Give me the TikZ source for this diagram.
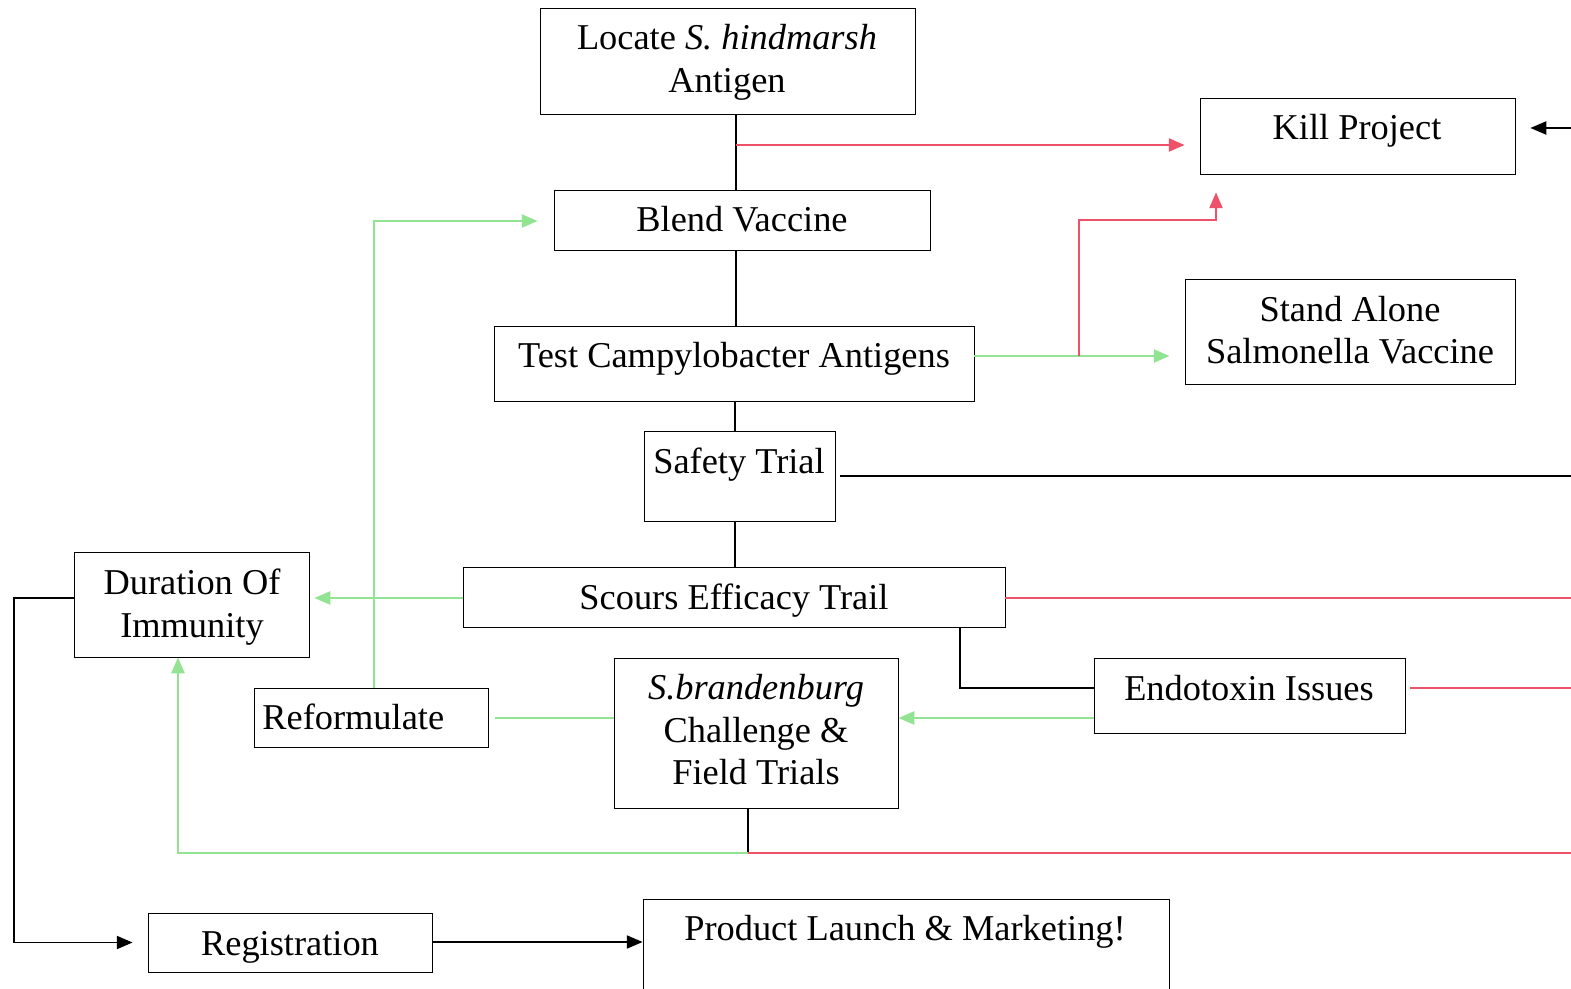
\documentclass[tikz,border=0pt]{standalone}
\usepackage{fontspec}
\setmainfont{Liberation Serif}
\usetikzlibrary{arrows.meta,fit}
\definecolor{kred}{RGB}{238,82,104}
\definecolor{kgreen}{RGB}{146,228,146}
\begin{document}
\begin{tikzpicture}[x=0.02cm,y=-0.02cm,
  box/.style={draw, line width=0.5pt, inner sep=0pt},
  txt/.style={inner sep=0pt, anchor=base, font=\fontsize{20.7}{24}\selectfont},
  blk/.style={draw=black, line width=0.9pt},
  rl/.style={draw=kred, line width=1.1pt},
  gl/.style={draw=kgreen, line width=1.1pt},
  tip/.style={-{Triangle[length=9pt,width=7.5pt]}}]
\useasboundingbox (0,0) rectangle (1571,989);
\clip (0,0) rectangle (1571,989);
% boxes
\node[box, fit={(540,8) (915,114)}] (loc) {};
\node[box, fit={(1200,98) (1515,174)}] (kill) {};
\node[box, fit={(554,190) (930,250)}] (blend) {};
\node[box, fit={(494,326) (974,401)}] (test) {};
\node[box, fit={(1185,279) (1515,384)}] (stand) {};
\node[box, fit={(644,431) (835,521)}] (safety) {};
\node[box, fit={(463,567) (1005,627)}] (scours) {};
\node[box, fit={(74,552) (309,657)}] (dur) {};
\node[box, fit={(254,688) (488,747)}] (ref) {};
\node[box, fit={(614,658) (898,808)}] (sb) {};
\node[box, fit={(1094,658) (1405,733)}] (endo) {};
\node[box, fit={(148,913) (432,972)}] (reg) {};
\node[box, fit={(643,899) (1169,1010)}] (prod) {};
% texts
\node[txt] (loc1) at (727,50) {Locate \textit{S. hindmarsh}};
\node[txt] (loc2) at (727,93) {Antigen};
\node[txt] (killt) at (1357,140) {Kill Project};
\node[txt] (blendt) at (742,232) {Blend Vaccine};
\node[txt] (testt) at (734,368) {Test Campylobacter Antigens};
\node[txt] (stand1) at (1350,322) {Stand Alone};
\node[txt] (stand2) at (1350,364) {Salmonella Vaccine};
\node[txt] (safetyt) at (739,473) {Safety Trial};
\node[txt] (scourst) at (734,609) {Scours Efficacy Trail};
\node[txt] (dur1) at (192,594) {Duration Of};
\node[txt] (dur2) at (192,637) {Immunity};
\node[txt, anchor=base west] (reft) at (262,729) {Reformulate};
\node[txt] (sb1) at (756,699) {\textit{S.brandenburg}};
\node[txt] (sb2) at (756,742) {Challenge \&};
\node[txt] (sb3) at (756,784) {Field Trials};
\node[txt] (endot) at (1249,700) {Endotoxin Issues};
\node[txt] (regt) at (290,955) {Registration};
\node[txt] (prodt) at (905,940) {Product Launch \& Marketing!};
% coordinates
\coordinate (sp) at (736,0);
\coordinate (t1) at (735,0);
\coordinate (r1) at (736,145);
\coordinate (g1) at (974,356);
\coordinate (k1) at (1079,356);
\coordinate (k2) at (1216,220);
\coordinate (es) at (1571,476);
\coordinate (ek) at (1571,128);
\coordinate (esc) at (1571,598);
\coordinate (sc) at (0,598);
\coordinate (e1) at (960,688);
\coordinate (e2) at (0,718);
\coordinate (ee) at (1571,688);
\coordinate (rx) at (374,0);
\coordinate (bl) at (0,221);
\coordinate (b0) at (748,0);
\coordinate (b1) at (748,853);
\coordinate (dx) at (178,0);
\coordinate (eb) at (1571,853);
\coordinate (lx) at (14,598);
\coordinate (ry) at (0,942);
% black spine
\draw[blk] (loc.south -| sp) -- (blend.north -| sp);
\draw[blk] (blend.south -| sp) -- (test.north -| sp);
\draw[blk] (test.south -| t1) -- (safety.north -| t1);
\draw[blk] (safety.south -| t1) -- (scours.north -| t1);
% red to kill
\draw[rl,tip,shorten >=0.3cm] (r1) -- (kill.west |- r1);
% test to stand alone and kill
\draw[gl,tip,shorten >=0.3cm] (g1) -- (stand.west |- g1);
\draw[rl,tip,shorten >=0.36cm] (k1) |- (k2) -- (kill.south -| k2);
% safety to right
\draw[blk] ([xshift=0.1cm]safety.east |- es) -- (es);
\draw[blk,tip,shorten >=0.3cm] (ek) -- (kill.east |- ek);
% scours
\draw[rl] (scours.east |- esc) -- (esc);
\draw[gl,tip,shorten >=0.1cm] (scours.west |- sc) -- (dur.east |- sc);
\draw[blk] (scours.south -| e1) |- (endo.west |- e1);
% endotoxin
\draw[gl,tip] (endo.west |- e2) -- (sb.east |- e2);
\draw[rl] ([xshift=0.1cm]endo.east |- ee) -- (ee);
% s.brandenburg to reformulate
\draw[gl] (sb.west |- e2) -- ([xshift=0.14cm]ref.east |- e2);
\draw[gl,tip,shorten >=0.32cm] (ref.north -| rx) |- (blend.west |- bl);
% s.brandenburg bottom
\draw[blk] (sb.south -| b0) -- (b1);
\draw[gl,tip] (b1) -| (dur.south -| dx);
\draw[rl] (b1) -- (eb);
% duration to registration to launch
\draw[blk,tip,shorten >=0.3cm] (dur.west |- lx) -- (lx) |- (reg.west);
\draw[blk,tip] (reg.east |- ry) -- (prod.west |- ry);
\end{tikzpicture}
\end{document}
